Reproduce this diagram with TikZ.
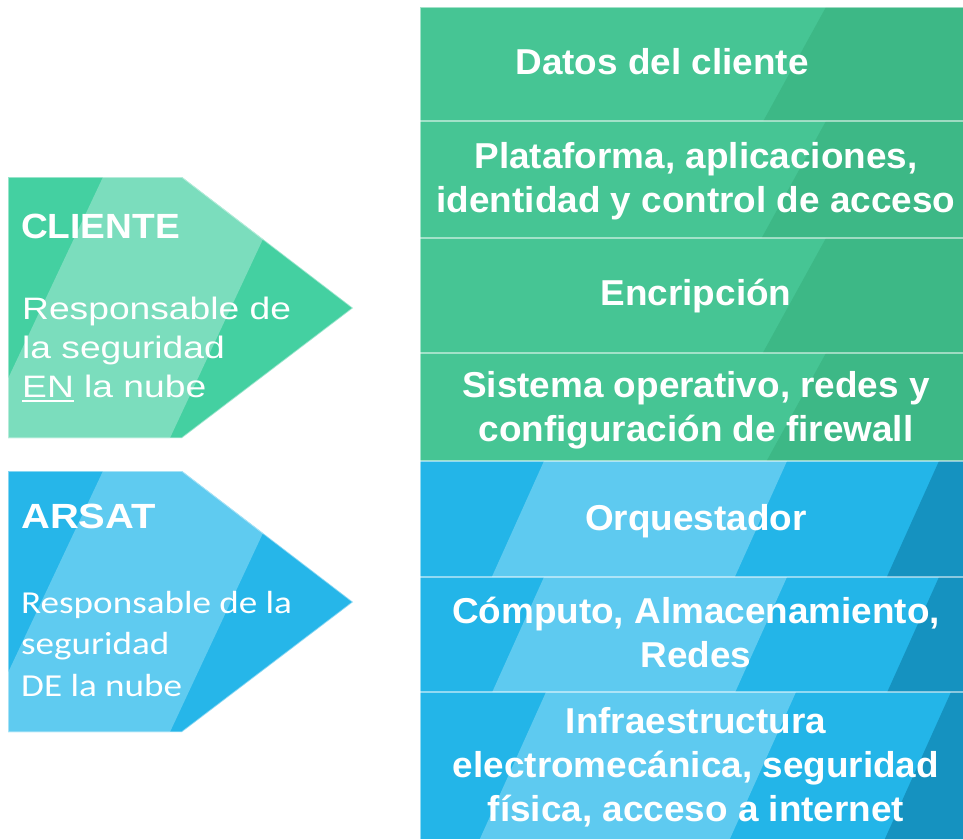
\documentclass[tikz,border=0pt]{standalone}
\usepackage{fontspec}
\setmainfont{Liberation Sans}
\newfontfamily\clienteface[FakeStretch=1.06]{Liberation Sans}
\newfontfamily\arsatface[FakeStretch=1.14]{Liberation Sans}
\newfontfamily\wideface[FakeStretch=1.2]{Liberation Sans}
\newfontfamily\calface[FakeStretch=1.16]{Carlito}
\newfontfamily\rowface[FakeStretch=1.025]{Liberation Sans}
\usepackage{tikz}

\definecolor{rowgreen}{HTML}{46C594}
\definecolor{rowgreendark}{HTML}{3DB886}
\definecolor{rowblue}{HTML}{23B5E8}
\definecolor{rowbluelight}{HTML}{5ECAF0}
\definecolor{rowbluedark}{HTML}{1592C0}
\definecolor{arrowgreen}{HTML}{44D0A1}
\definecolor{arrowgreenlight}{HTML}{7BDDBD}
\definecolor{arrowblue}{HTML}{26B6E9}
\definecolor{arrowbluelight}{HTML}{5FCBF0}

\newcommand\ulfat[1]{\setbox0\hbox{#1}\rlap{\rule[-4.5pt]{\wd0}{1.8pt}}\box0{}}

\tikzset{
  rowtext/.style={text=white, inner sep=0pt, align=center,
    font=\rowface\bfseries\fontsize{36}{44}\selectfont},
  rowline/.style={white, opacity=.5, line width=2.5pt},
  arrowedge/.style={white, opacity=.45, line width=1.5pt},
  headtext/.style={text=white, inner sep=0pt, anchor=base west},
  bodytext/.style={text=white, inner sep=0pt, anchor=north west, align=left}
}

\begin{document}
\begin{tikzpicture}[x=1pt,y=-1pt]
    \useasboundingbox (0,0) rectangle (963,839);

    \fill[rowgreen] (420,7) rectangle (963,461);
    \foreach \t/\b in {7/121,121/238,238/353,353/461}
        \fill[rowgreendark] (826,\t) -- (963,\t) -- (963,\b) -- ({826-0.55*(\b-\t)},\b) -- cycle;

    \fill[rowblue] (420,461) rectangle (963,839);
    \foreach \t/\b/\a/\c/\d in {461/577/544/787/939,577/692/544/787/939,692/839/546/796/951} {
        \fill[rowbluelight] (\a,\t) -- (\c,\t) -- ({\c-0.45*(\b-\t)},\b) -- ({\a-0.45*(\b-\t)},\b) -- cycle;
        \fill[rowbluedark] (\d,\t) -- (963,\t) -- (963,\b) -- ({\d-0.45*(\b-\t)},\b) -- cycle;
    }

    \draw[rowline] (420,839) -- (420,7) -- (963,7);
    \foreach \y in {121,238,353,461,577,692}
        \draw[rowline] (420,\y) -- (963,\y);

    \foreach \dy/\dark/\light in {0/arrowgreen/arrowgreenlight,294/arrowblue/arrowbluelight} {
        \begin{scope}[shift={(0,\dy)}]
            \fill[\dark] (8,177) -- (182,177) -- (353,308) -- (182,438) -- (8,438) -- cycle;
            \begin{scope}
                \clip (8,177) -- (182,177) -- (353,308) -- (182,438) -- (8,438) -- cycle;
                \fill[\light] (103,177) -- (292,177) -- (170,438) -- (-20,438) -- cycle;
            \end{scope}
            \draw[arrowedge] (8,177) -- (182,177) -- (353,308) -- (182,438) -- (8,438) -- cycle;
        \end{scope}
    }

    \node[headtext, font=\clienteface\bfseries\fontsize{35}{42}\selectfont] (clientehead) at (21,238) {CLIENTE};
    \node[bodytext, font=\wideface\fontsize{31}{39}\selectfont] (clientebody) at (22,297)
        {Responsable de\\la seguridad\\\ulfat{EN} la nube};
    \node[headtext, font=\arsatface\bfseries\fontsize{35}{42}\selectfont] (arsathead) at (21,528) {ARSAT};
    \node[bodytext, font=\calface\fontsize{32}{41.5}\selectfont] (arsatbody) at (21,591)
        {Responsable de la\\seguridad\\DE la nube};

    \node[rowtext] (datos) at (662,62) {Datos del cliente};
    \node[rowtext] (plataforma) at (696,181) {Plataforma, aplicaciones,\\identidad y control de acceso};
    \node[rowtext] (encripcion) at (696,296) {Encripción};
    \node[rowtext] (sistema) at (696,410) {Sistema operativo, redes y\\configuración de firewall};
    \node[rowtext] (orquestador) at (696,521) {Orquestador};
    \node[rowtext] (computo) at (696,632) {Cómputo, Almacenamiento,\\Redes};
    \node[rowtext] (infra) at (696,767) {Infraestructura\\electromecánica, seguridad\\física, acceso a internet};
\end{tikzpicture}
\end{document}
